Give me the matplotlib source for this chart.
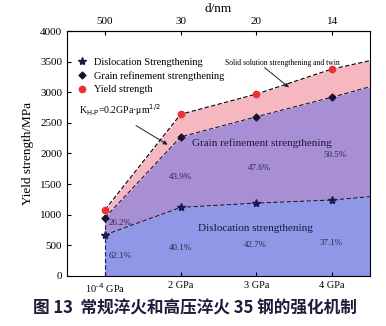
import numpy as np
import matplotlib.pyplot as plt
from matplotlib.lines import Line2D

plt.rcParams['font.family'] = ['Liberation Serif', 'DejaVu Serif']

pressure = ['10$^{\\text{-}4}$ GPa', '2 GPa', '3 GPa', '4 GPa']
d_nm = ['500', '30', '20', '14']
yield_str = [1080, 2640, 2970, 3380]
grain = [950, 2270, 2600, 2920]
disloc = [670, 1120, 1190, 1240]
# values where the dashed boundaries meet the right border
edge_yield, edge_grain, edge_disloc = 3515, 3090, 1295
pct_disloc = ['62.1%', '40.1%', '42.7%', '37.1%']
pct_grain = ['26.2%', '43.9%', '47.6%', '50.5%']

x = np.arange(len(pressure))
xe = np.append(x, 3.5)
top = np.append(yield_str, edge_yield)
mid = np.append(grain, edge_grain)
low = np.append(disloc, edge_disloc)

fig = plt.figure(figsize=(3.86, 3.26), dpi=100)
ax = fig.add_axes([0.1736, 0.1534, 0.7849, 0.7515])

ax.fill_between(xe, 0, low, color='#8f97e6', lw=0)
ax.fill_between(xe, low, mid, color='#a88fd4', lw=0)
ax.fill_between(xe, mid, top, color='#f5b8c0', lw=0)

lc = '#1a1a4a'
ax.plot(xe, top, ls='--', color='k', lw=0.8, dashes=(4, 2))
ax.plot(xe, mid, ls='--', color=lc, lw=0.8, dashes=(4, 2))
ax.plot(xe, low, ls='--', color=lc, lw=0.8, dashes=(4, 2))
ax.plot([0, 0], [0, grain[0]], ls='--', color=lc, lw=0.8, dashes=(4, 2))

ax.plot(x, disloc, '*', color='#1a1a50', ms=6, ls='none')
ax.plot(x, grain, 'D', color='#1a1030', ms=3.5, ls='none')
ax.plot(x, yield_str, 'o', color='#ec3036', ms=4.5, ls='none')

ax.set_xlim(-0.5, 3.5)
ax.set_ylim(0, 4000)
ax.set_xticks(x)
ax.set_xticklabels(pressure, fontsize=7.5)
ax.set_yticks(np.arange(0, 4001, 500))
ax.tick_params(axis='y', labelsize=8, direction='in', length=3, right=False)
ax.tick_params(axis='x', direction='in', length=3)
ax.set_ylabel('Yield strength/MPa', fontsize=9.5)

sec = ax.secondary_xaxis('top')
sec.set_xticks(x)
sec.set_xticklabels(d_nm, fontsize=8)
sec.tick_params(direction='in', length=3)
sec.set_xlabel('d/nm', fontsize=9.5, labelpad=4)

handles = [
    Line2D([], [], marker='*', color='#1a1a50', ls='none', ms=6),
    Line2D([], [], marker='D', color='#1a1030', ls='none', ms=3.5),
    Line2D([], [], marker='o', color='#ec3036', ls='none', ms=4.5),
]
ax.legend(handles, ['Dislocation Strengthening', 'Grain refinement strengthening', 'Yield strength'],
          loc='upper left', bbox_to_anchor=(0.0, 0.925), frameon=False, fontsize=7.5,
          handletextpad=0.6, labelspacing=0.4, borderpad=0.3, handlelength=1.2)

ax.text(-0.34, 2710, 'K$_{\\mathrm{H\\text{-}P}}$=0.2GPa·μm$^{1/2}$', fontsize=7, va='center')
ax.annotate('', xy=(0.86, 2120), xytext=(0.38, 2480),
            arrowprops=dict(arrowstyle='-|>', color='#222222', lw=0.7, mutation_scale=6))
ax.text(2.34, 3480, 'Solid solution strengthening and twin', fontsize=5.5, ha='center', va='center')
ax.annotate('', xy=(2.46, 3050), xytext=(2.08, 3430),
            arrowprops=dict(arrowstyle='-|>', color='#222222', lw=0.7, mutation_scale=6))
ax.text(2.07, 2170, 'Grain refinement strengthening', fontsize=8, ha='center', va='center', color='#1a1a3a')
ax.text(1.99, 770, 'Dislocation strengthening', fontsize=8, ha='center', va='center', color='#1a1a3a')

grain_pos = [(0.05, 865, 'left'), (1.0, 1615, 'center'), (2.04, 1760, 'center'), (3.04, 1975, 'center')]
for (px, py, ha), t in zip(grain_pos, pct_grain):
    ax.text(px, py, t, fontsize=6.5, ha=ha, va='center', color='#2a2a4a')
disl_pos = [(0.05, 330, 'left'), (1.0, 455, 'center'), (1.99, 505, 'center'), (2.99, 540, 'center')]
for (px, py, ha), t in zip(disl_pos, pct_disloc):
    ax.text(px, py, t, fontsize=6.5, ha=ha, va='center', color='#2a2a4a')

fig.text(0.505, 0.055, '图 13  常规淬火和高压淬火 35 钢的强化机制', fontsize=12, fontweight='bold',
         ha='center', va='center', color='#1c1c3c', family=['Noto Sans CJK SC', 'DejaVu Sans'])

fig.savefig('out.png', dpi=100)
